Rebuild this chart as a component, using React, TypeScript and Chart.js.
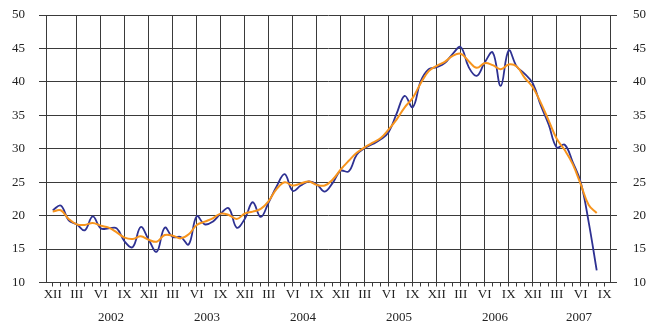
import React, { useEffect, useRef } from 'react';
import { Chart, registerables } from 'chart.js';

Chart.register(...registerables);

// Quarterly tick labels, one every 3 months starting at XII 2001
const quarterLabels = [
  'XII', 'III', 'VI', 'IX',
  'XII', 'III', 'VI', 'IX',
  'XII', 'III', 'VI', 'IX',
  'XII', 'III', 'VI', 'IX',
  'XII', 'III', 'VI', 'IX',
  'XII', 'III', 'VI', 'IX',
];

const years = ['2002', '2003', '2004', '2005', '2006', '2007'];

// Monthly series, starting XII 2001
const monthlySeries = [
  20.8, 21.5, 19.3, 18.7, 17.8, 19.9, 18.1, 18.1, 18.1, 16.1, 15.3, 18.3,
  16.4, 14.6, 18.2, 16.8, 16.8, 15.7, 19.9, 18.7, 19.1, 20.3, 21.1, 18.2,
  19.5, 22.0, 19.8, 22.0, 24.4, 26.2, 23.7, 24.5, 25.1, 24.7, 23.6, 24.9,
  26.7, 26.6, 29.1, 30.1, 30.7, 31.4, 32.5, 35.3, 37.9, 36.2, 40.1, 41.9,
  42.2, 42.8, 44.2, 45.2, 42.2, 40.9, 42.9, 44.4, 39.4, 44.7, 42.3, 41.2,
  39.8, 36.5, 33.6, 30.2, 30.6, 28.0, 25.0, 19.0, 11.8,
];

// Smoothed (trend) series
const trendSeries = [
  20.6, 20.8, 19.5, 18.7, 18.6, 18.9, 18.5, 18.2, 17.5, 16.7, 16.5, 16.9,
  16.4, 16.1, 17.1, 17.0, 16.6, 17.2, 18.6, 19.1, 19.6, 20.3, 20.1, 19.5,
  20.3, 20.6, 21.0, 22.2, 24.0, 25.0, 24.5, 24.8, 25.1, 24.6, 24.5, 25.4,
  26.9, 28.2, 29.4, 30.2, 30.9, 31.6, 32.9, 34.4, 36.2, 37.6, 39.8, 41.6,
  42.4, 43.0, 43.9, 44.2, 43.1, 42.1, 42.8, 42.5, 41.9, 42.6, 42.3, 40.6,
  39.2, 36.9, 34.2, 31.5, 29.8, 27.7, 24.7, 21.6, 20.4,
];

const GRID = '#3a3a3a';
const TEXT = '#222222';
const FONT = { family: "'Liberation Serif', 'Times New Roman', serif", size: 13 };

const monthCount = (quarterLabels.length - 1) * 3 + 1; // 0..69
const X_MIN = -0.84;
const X_MAX = monthCount - 1 + 0.66;

function yearCenter(k: number): number {
  const first = 1 + 12 * k;
  const last = Math.min(12 + 12 * k, monthCount - 1);
  return (first + last) / 2 + 0.8;
}

export default function App() {
  const ref = useRef<HTMLCanvasElement | null>(null);

  useEffect(() => {
    if (!ref.current) return;
    const chart = new Chart(ref.current, {
      type: 'line',
      data: {
        datasets: [
          {
            data: trendSeries.map((v, i) => ({ x: i, y: v })),
            borderColor: '#F7941D',
            borderWidth: 2,
            pointRadius: 0,
            tension: 0.4,
            fill: false,
          },
          {
            data: monthlySeries.map((v, i) => ({ x: i, y: v })),
            borderColor: '#2E3192',
            borderWidth: 1.8,
            pointRadius: 0,
            tension: 0.4,
            fill: false,
          },
        ],
      },
      options: {
        responsive: false,
        animation: false,
        events: [],
        layout: { padding: { top: 15, left: 0, right: 0, bottom: 0 } },
        plugins: { legend: { display: false }, tooltip: { enabled: false } },
        scales: {
          x: {
            type: 'linear',
            position: 'bottom',
            min: X_MIN,
            max: X_MAX,
            weight: 0,
            afterBuildTicks: (s: any) => {
              s.ticks = Array.from({ length: monthCount }, (_, i) => ({ value: i }));
            },
            afterFit: (s: any) => { s.height = 21; },
            ticks: {
              autoSkip: false,
              maxRotation: 0,
              minRotation: 0,
              padding: 0,
              font: FONT,
              color: TEXT,
              callback: (v: any) => (v % 3 === 0 ? quarterLabels[v / 3] : ''),
            },
            grid: {
              color: (c: any) => {
                const v = c.tick ? c.tick.value : -1;
                return v % 3 === 0 && v > 0 && v < monthCount - 1 ? GRID : 'rgba(0,0,0,0)';
              },
              tickColor: GRID,
              tickLength: 4,
              lineWidth: 1,
            },
            border: { color: GRID },
          },
          x2: {
            type: 'linear',
            position: 'bottom',
            min: X_MIN,
            max: X_MAX,
            weight: 1,
            afterBuildTicks: (s: any) => {
              s.ticks = years.map((_, k) => ({ value: yearCenter(k) }));
            },
            afterFit: (s: any) => { s.height = 20.5; },
            ticks: {
              autoSkip: false,
              maxRotation: 0,
              minRotation: 0,
              padding: 6,
              font: FONT,
              color: TEXT,
              callback: (_v: any, i: number) => years[i],
            },
            grid: { display: false, drawTicks: false },
            border: { display: false },
          },
          y: {
            position: 'left',
            min: 10,
            max: 50,
            afterFit: (s: any) => { s.width = 46; s.paddingTop = 0; s.paddingBottom = 0; },
            ticks: { stepSize: 5, padding: 14, font: FONT, color: TEXT },
            grid: { color: GRID, tickLength: 7, lineWidth: 1 },
            border: { color: GRID },
          },
          y2: {
            position: 'right',
            min: 10,
            max: 50,
            afterFit: (s: any) => { s.width = 50; s.paddingTop = 0; s.paddingBottom = 0; },
            ticks: { stepSize: 5, padding: 16, font: FONT, color: TEXT },
            grid: { drawOnChartArea: false, color: GRID, tickLength: 7, lineWidth: 1 },
            border: { color: GRID },
          },
        },
      },
    } as any);
    return () => chart.destroy();
  }, []);

  return (
    <div style={{ position: 'absolute', left: 0, top: 0, width: 660, height: 324, background: '#fff' }}>
      <canvas ref={ref} width={660} height={324} style={{ display: 'block' }} />
    </div>
  );
}
